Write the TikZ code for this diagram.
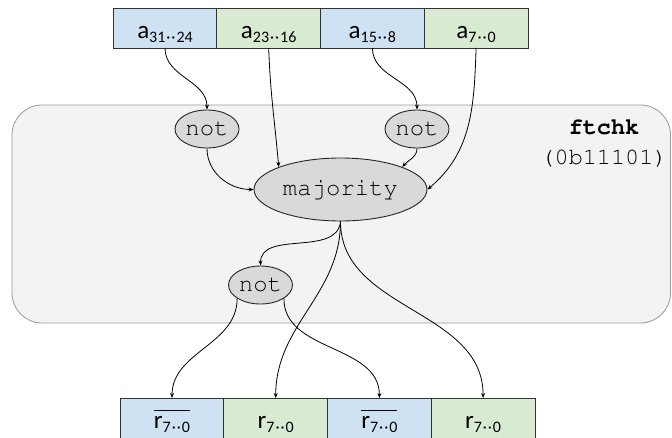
\documentclass[tikz,border=0pt]{standalone}
\usepackage[T1]{fontenc}
\usepackage{fontspec}
\setmainfont{Carlito}
\usetikzlibrary{shapes.geometric, arrows.meta, positioning}

\definecolor{fieldblue}{HTML}{CFE2F3}
\definecolor{fieldgreen}{HTML}{D9EAD3}
\definecolor{panelfill}{HTML}{F3F3F3}
\definecolor{panelline}{HTML}{999999}
\definecolor{gatefill}{HTML}{D9D9D9}

\newcommand\cour{\fontencoding{T1}\fontfamily{pcr}\selectfont}
\newcommand\bitsub[2]{\raisebox{-4pt}{\fontsize{16}{16}\selectfont #1\kern1pt·\kern1pt·\kern1pt#2}}
\newcommand\negfield[1]{$\overline{\hbox{\rule{0pt}{16.5pt}#1}}$}

\begin{document}
\begin{tikzpicture}[x=1pt, y=1pt,
    field/.style={rectangle, draw=black!80, line width=0.9pt, minimum width=103.7pt, minimum height=40pt,
      inner sep=0pt, outer sep=0pt, text height=22pt, text depth=2pt, font=\fontsize{25}{30}\selectfont},
    gate/.style={ellipse, draw=black!85, fill=gatefill, line width=0.9pt, inner sep=0pt,
      minimum width=64pt, minimum height=38pt, font=\cour\fontsize{24}{28}\selectfont},
    arrow/.style={-{Stealth[length=5pt, width=4pt]}, line width=0.8pt}
  ]
    \useasboundingbox (0,0) rectangle (672,-437);

    % container
    \node[draw=panelline, fill=panelfill, line width=0.8pt, rounded corners=30pt, inner sep=0pt,
      minimum width=658.5pt, minimum height=218pt] (frame) at (341.25,-214) {};
    \node[align=center, font=\cour\fontsize{23.5}{30}\selectfont] (chk) at (604,-143) {\textbf{ftchk}\\(0b11101)};

    % input word
    \node[field, fill=fieldblue] (a3) at (165,-28) {a\bitsub{31}{24}};
    \node[field, fill=fieldgreen, right=0pt of a3] (a2) {a\bitsub{23}{16}};
    \node[field, fill=fieldblue, right=0pt of a2] (a1) {a\bitsub{15}{8}};
    \node[field, fill=fieldgreen, right=0pt of a1] (a0) {a\bitsub{7}{0}};

    % gates
    \node[gate] (inv3) at (207,-129) {not};
    \node[gate] (inv1) at (417,-129) {not};
    \node[gate, minimum width=173pt, minimum height=63pt] (maj) at (340.5,-189.5) {majority};
    \node[gate] (invr) at (260.5,-285) {not};

    % output word
    \node[field, fill=fieldblue] (r3) at (172,-418) {\negfield{r\bitsub{7}{0}}};
    \node[field, fill=fieldgreen, right=0pt of r3] (r2) {r\bitsub{7}{0}};
    \node[field, fill=fieldblue, right=0pt of r2] (r1) {\negfield{r\bitsub{7}{0}}};
    \node[field, fill=fieldgreen, right=0pt of r1] (r0) {r\bitsub{7}{0}};

    \draw[arrow] (a3.south) to[out=-90, in=90] (inv3.north);
    \draw[arrow] (a2.south) to[out=-88, in=95] (maj.160);
    \draw[arrow] (a1.south) to[out=-90, in=90] (inv1.north);
    \draw[arrow] (a0.south) to[out=-92, in=40] (maj.east);
    \draw[arrow] (inv3.south) to[out=-90, in=180] (maj.west);
    \draw[arrow] (inv1.south) to[out=-90, in=50] (maj.20);

    \draw[arrow] (maj.south) to[out=-95, in=90] (invr.north);
    \draw[arrow] (maj.south) to[out=-90, in=90] (r2.north);
    \draw[arrow] (maj.south) to[out=-90, in=90] (r0.north);
    \draw[arrow] (invr.-150) to[out=-90, in=90] (r3.north);
    \draw[arrow] (invr.-30) to[out=-90, in=90] (r1.north);
  \end{tikzpicture}
\end{document}
